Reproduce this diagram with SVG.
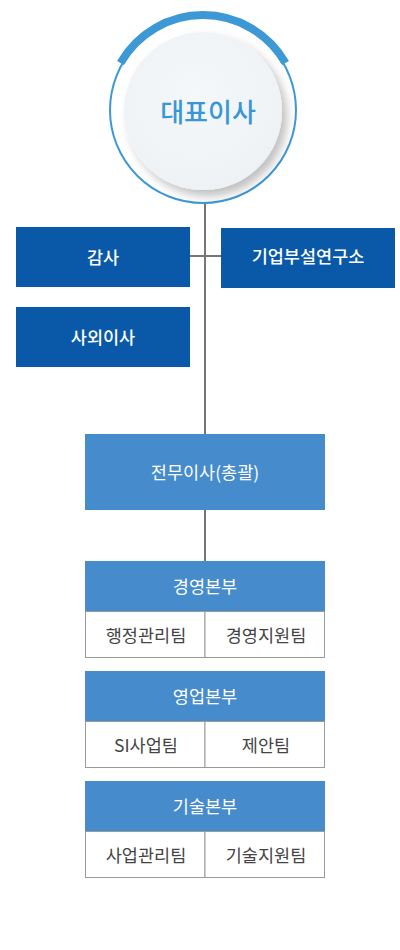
<svg xmlns="http://www.w3.org/2000/svg" width="400" height="950" viewBox="0 0 400 950">
<defs>
<filter id="sh" x="-30%" y="-30%" width="160%" height="160%">
<feGaussianBlur in="SourceAlpha" stdDeviation="5"/>
<feOffset dx="5" dy="6" result="b"/>
<feComponentTransfer><feFuncA type="linear" slope="0.25"/></feComponentTransfer>
<feMerge><feMergeNode/><feMergeNode in="SourceGraphic"/></feMerge>
</filter>
<radialGradient id="ig" cx="45%" cy="40%" r="60%">
<stop offset="0" stop-color="#f5f8fa"/>
<stop offset="1" stop-color="#eef2f5"/>
</radialGradient>
</defs>
<style>
text{font-family:"Noto Sans CJK KR","Noto Sans",sans-serif;text-anchor:middle;dominant-baseline:central}
.dk{fill:#0a59a9}
.md{fill:#468bcb}
.cell{fill:#fff;stroke:#9a9a9a;stroke-width:1}
.w{fill:#fff;font-size:17.5px;font-weight:400}
.dk+.w{font-weight:500}
.g{fill:#444;font-size:17.5px}
.ln{stroke:#767676;stroke-width:2;fill:none}
</style>
<rect width="400" height="950" fill="#fff"/>
<g id="connectors">
<line class="ln" x1="205" y1="200" x2="205" y2="434"/>
<line class="ln" x1="190" y1="256" x2="221" y2="256"/>
<line class="ln" x1="205" y1="510" x2="205" y2="561"/>
</g>
<g id="ceo">
<circle cx="203" cy="110" r="93" fill="#fff" stroke="#3d98d6" stroke-width="2"/>
<path d="M120.5,63 A95,95 0 0 1 285.5,63" fill="none" stroke="#3d98d6" stroke-width="8"/>
<circle cx="203" cy="111" r="79" fill="url(#ig)" filter="url(#sh)"/>
<text x="208" y="110" style="font-size:26px;font-weight:500;fill:#3a96d4">대표이사</text>
</g>
<g id="audit"><rect class="dk" x="16" y="227" width="174" height="60"/><text class="w" x="103" y="256">감사</text></g>
<g id="lab"><rect class="dk" x="221" y="228" width="174" height="60"/><text class="w" x="308" y="255">기업부설연구소</text></g>
<g id="outside"><rect class="dk" x="16" y="307" width="174" height="60"/><text class="w" x="103" y="336">사외이사</text></g>
<g id="managing"><rect class="md" x="85" y="434" width="240" height="76"/><text class="w" x="205" y="471">전무이사(총괄)</text></g>
<g id="div1">
<rect class="md" x="85" y="561" width="240" height="50"/><text class="w" x="205" y="585">경영본부</text>
<rect class="cell" x="85.5" y="611.5" width="119.5" height="46"/><rect class="cell" x="205" y="611.5" width="119.5" height="46"/>
<text class="g" x="146" y="634">행정관리팀</text><text class="g" x="266" y="634">경영지원팀</text>
</g>
<g id="div2">
<rect class="md" x="85" y="671" width="240" height="50"/><text class="w" x="205" y="695">영업본부</text>
<rect class="cell" x="85.5" y="721.5" width="119.5" height="46"/><rect class="cell" x="205" y="721.5" width="119.5" height="46"/>
<text class="g" x="146" y="744">SI사업팀</text><text class="g" x="266" y="744">제안팀</text>
</g>
<g id="div3">
<rect class="md" x="85" y="781" width="240" height="50"/><text class="w" x="205" y="805">기술본부</text>
<rect class="cell" x="85.5" y="831.5" width="119.5" height="46"/><rect class="cell" x="205" y="831.5" width="119.5" height="46"/>
<text class="g" x="146" y="854">사업관리팀</text><text class="g" x="266" y="854">기술지원팀</text>
</g>
</svg>
